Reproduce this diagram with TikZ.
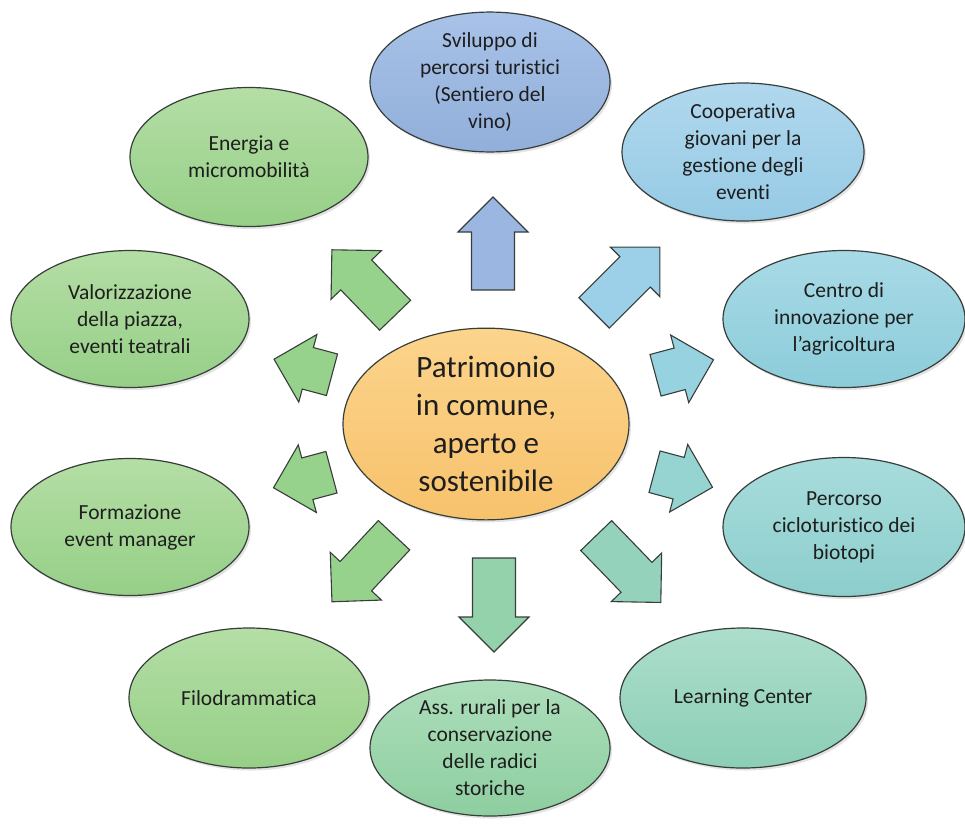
\documentclass[tikz,border=0pt]{standalone}
\usepackage{fontspec}
\setmainfont[Ligatures=NoCommon]{Carlito}
\usetikzlibrary{shapes.geometric,shadows}

\definecolor{edge}{RGB}{55,62,58}
\definecolor{ink}{RGB}{30,30,30}
\definecolor{coreT}{RGB}{252,212,140}
\definecolor{coreB}{RGB}{247,194,108}
\definecolor{blueT}{RGB}{168,194,232}
\definecolor{blueB}{RGB}{145,175,218}
\definecolor{skyT}{RGB}{176,216,238}
\definecolor{skyB}{RGB}{150,202,228}
\definecolor{cyanT}{RGB}{168,218,230}
\definecolor{cyanB}{RGB}{140,204,218}
\definecolor{tealT}{RGB}{168,220,220}
\definecolor{tealB}{RGB}{140,206,204}
\definecolor{mintT}{RGB}{172,222,204}
\definecolor{mintB}{RGB}{140,206,182}
\definecolor{jadeT}{RGB}{172,222,186}
\definecolor{jadeB}{RGB}{142,206,160}
\definecolor{leafT}{RGB}{180,222,165}
\definecolor{leafB}{RGB}{150,207,135}
\definecolor{arBlue}{RGB}{155,183,225}
\definecolor{arSky}{RGB}{155,208,232}
\definecolor{arCyan}{RGB}{150,210,224}
\definecolor{arTeal}{RGB}{150,212,210}
\definecolor{arMint}{RGB}{148,210,188}
\definecolor{arJade}{RGB}{148,210,172}
\definecolor{arLeaf}{RGB}{150,210,140}

\tikzset{
  bubble/.style={ellipse, draw=edge, line width=1.2pt, inner sep=0pt,
    align=center, text=ink, font=\fontsize{21.5}{27}\selectfont,
    drop shadow={opacity=0.22, shadow xshift=2pt, shadow yshift=-2.5pt}},
  arrowbody/.style={draw=edge, line width=1.1pt, line join=miter,
    drop shadow={opacity=0.22, shadow xshift=2pt, shadow yshift=-2.5pt}},
  pics/barrow/.style={code={
    \path[pic actions] (-#1/2,-21.5) -- (#1/2-35,-21.5) -- (#1/2-35,-35)
      -- (#1/2,0) -- (#1/2-35,35) -- (#1/2-35,21.5) -- (-#1/2,21.5) -- cycle;
  }}
}

\begin{document}
\begin{tikzpicture}[x=1pt,y=-1pt]
\useasboundingbox (0,0) rectangle (965,836);

% central theme
\node[bubble, minimum width=286pt, minimum height=188pt, top color=coreT,
  bottom color=coreB, font=\fontsize{31}{38}\selectfont] (core) at (486,424)
  {Patrimonio\\in comune,\\aperto e\\sostenibile};

% surrounding projects, clockwise from the top
\node[bubble, minimum width=240pt, minimum height=128pt, top color=blueT, bottom color=blueB]
  (sentiero) at (490,82) {Sviluppo di\\percorsi turistici\\(Sentiero del\\vino)};
\node[bubble, minimum width=242pt, minimum height=138pt, top color=skyT, bottom color=skyB]
  (coop) at (743,152) {Cooperativa\\giovani per la\\gestione degli\\eventi};
\node[bubble, minimum width=242pt, minimum height=137pt, top color=cyanT, bottom color=cyanB]
  (agri) at (844,319) {Centro di\\innovazione per\\l’agricoltura};
\node[bubble, minimum width=242pt, minimum height=139pt, top color=tealT, bottom color=tealB]
  (bio) at (844,527) {Percorso\\cicloturistico dei\\biotopi};
\node[bubble, minimum width=246pt, minimum height=140pt, top color=mintT, bottom color=mintB]
  (learn) at (743,698) {Learning Center};
\node[bubble, minimum width=240pt, minimum height=136pt, top color=jadeT, bottom color=jadeB]
  (rurali) at (490,748) {Ass. rurali per la\\conservazione\\delle radici\\storiche};
\node[bubble, minimum width=240pt, minimum height=140pt, top color=leafT, bottom color=leafB]
  (filo) at (249,698) {Filodrammatica};
\node[bubble, minimum width=238pt, minimum height=137pt, top color=leafT, bottom color=leafB]
  (event) at (130,527) {Formazione\\event manager};
\node[bubble, minimum width=238pt, minimum height=137pt, top color=leafT, bottom color=leafB]
  (piazza) at (130,319) {Valorizzazione\\della piazza,\\eventi teatrali};
\node[bubble, minimum width=238pt, minimum height=139pt, top color=leafT, bottom color=leafB]
  (energia) at (249,157) {Energia e\\micromobilità};

% diverging block arrows
\pic[rotate=90,   arrowbody, fill=arBlue] at (493,243.5) {barrow=93};
\pic[rotate=45,   arrowbody, fill=arSky]  at (627,280)   {barrow=93};
\pic[rotate=15,   arrowbody, fill=arCyan] at (684.5,367.5) {barrow=60};
\pic[rotate=-15,  arrowbody, fill=arTeal] at (683.5,479.5) {barrow=60};
\pic[rotate=-46,  arrowbody, fill=arMint] at (628.5,569) {barrow=93};
\pic[rotate=-90,  arrowbody, fill=arJade] at (494,605)   {barrow=94};
\pic[rotate=-133, arrowbody, fill=arLeaf] at (363,568.5) {barrow=91};
\pic[rotate=195,  arrowbody, fill=arLeaf] at (302.5,480) {barrow=60};
\pic[rotate=165,  arrowbody, fill=arLeaf] at (303,367)   {barrow=60};
\pic[rotate=134,  arrowbody, fill=arLeaf] at (363.5,282.5) {barrow=91};
\end{tikzpicture}
\end{document}
